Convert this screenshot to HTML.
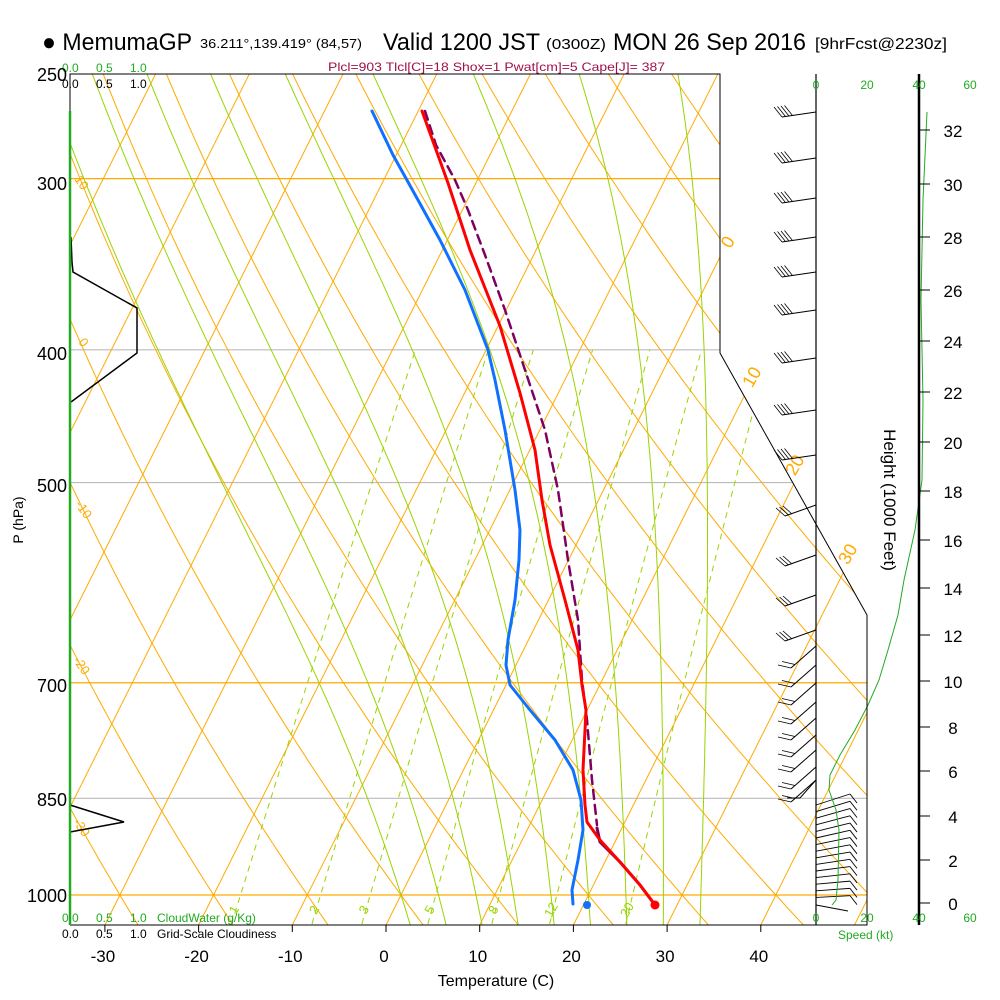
<!DOCTYPE html>
<html><head><meta charset="utf-8"><style>
html,body{margin:0;padding:0;background:#fff;}
svg{display:block;font-family:"Liberation Sans",sans-serif;}
</style></head><body>
<svg id="s" width="1000" height="1000" viewBox="0 0 1000 1000" xmlns="http://www.w3.org/2000/svg">
<defs><clipPath id="cp"><polygon points="70,74 720,74 720,353 867,615 867,925 70,925"/></clipPath></defs>
<g id="bg" clip-path="url(#cp)"></g>
<g id="fg"></g>
<polyline points="70,925 70,74 720,74 720,353 867,615 867,925 70,925" fill="none" stroke="#000" stroke-width="1"/>
<line x1="816" y1="74" x2="816" y2="925" stroke="#000" stroke-width="1.2"/>
<line x1="919" y1="74" x2="919" y2="925" stroke="#000" stroke-width="2.5"/>
<line x1="70" y1="111" x2="70" y2="925" stroke="#22aa22" stroke-width="2.5"/>
<text x="42" y="50" font-size="24" textLength="150" lengthAdjust="spacingAndGlyphs">● MemumaGP</text>
<text x="200" y="48" font-size="13" textLength="162" lengthAdjust="spacingAndGlyphs">36.211°,139.419° (84,57)</text>
<text x="383" y="50" font-size="24" textLength="157" lengthAdjust="spacingAndGlyphs">Valid 1200 JST</text>
<text x="546" y="49" font-size="15" textLength="60" lengthAdjust="spacingAndGlyphs">(0300Z)</text>
<text x="613" y="50" font-size="24" textLength="193" lengthAdjust="spacingAndGlyphs">MON 26 Sep 2016</text>
<text x="815" y="49" font-size="16" textLength="132" lengthAdjust="spacingAndGlyphs">[9hrFcst@2230z]</text>
<text x="328" y="71" font-size="12" fill="#a0104a" textLength="337" lengthAdjust="spacingAndGlyphs">Plcl=903 Tlcl[C]=18 Shox=1 Pwat[cm]=5 Cape[J]= 387</text>
<g font-size="12" fill="#22aa22"><text x="62" y="72">0.0</text><text x="96" y="72">0.5</text><text x="130" y="72">1.0</text></g>
<g font-size="12" fill="#000"><text x="62" y="88">0.0</text><text x="96" y="88">0.5</text><text x="130" y="88">1.0</text></g>
<g font-size="18" text-anchor="end">
<text x="67" y="81">250</text><text x="67" y="190">300</text><text x="67" y="360">400</text><text x="67" y="492">500</text><text x="67" y="692">700</text><text x="67" y="806">850</text><text x="67" y="902">1000</text>
</g>
<text transform="translate(23,520) rotate(-90)" font-size="14" text-anchor="middle">P (hPa)</text>
<text transform="translate(884,500) rotate(90)" font-size="17" text-anchor="middle">Height (1000 Feet)</text>
<g font-size="12" fill="#22aa22" text-anchor="middle"><text x="816" y="89">0</text><text x="867" y="89">20</text><text x="919" y="89">40</text><text x="970" y="89">60</text>
<text x="816" y="922">0</text><text x="867" y="922">20</text><text x="919" y="922">40</text><text x="970" y="922">60</text></g>
<text x="838" y="939" font-size="12" fill="#22aa22">Speed (kt)</text>
<g font-size="12" fill="#22aa22"><text x="62" y="922">0.0</text><text x="96" y="922">0.5</text><text x="130" y="922">1.0</text><text x="157" y="922">CloudWater (g/Kg)</text></g>
<g font-size="12" fill="#000"><text x="62" y="938">0.0</text><text x="96" y="938">0.5</text><text x="130" y="938">1.0</text><text x="157" y="938">Grid-Scale Cloudiness</text></g>
<g font-size="17" text-anchor="middle" id="tl"></g>
<text x="496" y="986" font-size="16" text-anchor="middle">Temperature (C)</text>
<g id="ht" font-size="17" text-anchor="middle"></g>
</svg>
<script>
var NS="http://www.w3.org/2000/svg";
function el(p,t,a){var e=document.createElementNS(NS,t);for(var k in a)e.setAttribute(k,a[k]);document.getElementById(p).appendChild(e);return e;}
function Y(p){return 895-595*Math.log(1000/p);}
function X(T,y){return 386+9.37*T+0.5*(925-y);}
var OR="#ffaa00",GR="#99d400";
[[300,OR],[400,"#bbb"],[500,"#bbb"],[700,OR],[850,"#bbb"],[1000,OR]].forEach(function(a){var y=Y(a[0]);el("bg","line",{x1:70,x2:870,y1:y,y2:y,stroke:a[1],"stroke-width":1.2});});
for(var T=-160;T<=50;T+=10){el("bg","line",{x1:X(T,925),y1:925,x2:X(T,74),y2:74,stroke:OR,"stroke-width":1});}
for(var th=-40;th<=200;th+=10){var pts=[];for(var p=1060;p>=240;p-=10){var Tk=(th+273.15)*Math.pow(p/1000,0.286)-273.15;var y=Y(p);pts.push(X(Tk,y).toFixed(1)+","+y.toFixed(1));}el("bg","polyline",{points:pts.join(" "),fill:"none",stroke:OR,"stroke-width":1});}
function es(T){return 6.112*Math.exp(17.67*T/(T+243.5));}
for(var t0=0;t0<=32;t0+=4){
 var pts=[],T=t0;
 for(var p=1000;p<=1060;p+=5){}
 var T2=t0,ptsb=[];
 for(var p=1000;p<=1060;p+=5){var y=Y(p);ptsb.unshift(X(T2,y).toFixed(1)+","+y.toFixed(1));var Tk=T2+273.15,rs=0.622*es(T2)/(p-es(T2));var L=2.5e6,Rd=287,cp=1004;T2+=(Rd*Tk+L*rs)/(cp+L*L*rs*0.622/(Rd*Tk*Tk))/p*5;}
 ptsb.pop();
 for(var p=1000;p>=250;p-=5){var y=Y(p);pts.push(X(T,y).toFixed(1)+","+y.toFixed(1));
  var Tk=T+273.15,rs=0.622*es(T)/(p-es(T));var L=2.5e6,Rd=287,cp=1004;
  var dTdp=(Rd*Tk+L*rs)/(cp+L*L*rs*0.622/(Rd*Tk*Tk))/p;T-=dTdp*5;}
 el("bg","polyline",{points:ptsb.concat(pts).join(" "),fill:"none",stroke:GR,"stroke-width":1});}
[1,2,3,5,8,12,20].forEach(function(w){var pts=[];for(var p=1050;p>=400;p-=10){var e=w*p/(622+w);var l=Math.log(e/6.112);var Td=243.5*l/(17.67-l);var y=Y(p);pts.push(X(Td,y).toFixed(1)+","+y.toFixed(1));}
 el("bg","polyline",{points:pts.join(" "),fill:"none",stroke:GR,"stroke-width":1,"stroke-dasharray":"6,5"});
 var e=w*1020/(622+w),l=Math.log(e/6.112),Td=243.5*l/(17.67-l);var lx=X(Td,912);el("bg","text",{x:lx,y:914,"font-size":13,fill:GR,"text-anchor":"middle",transform:"rotate(-60 "+lx+" 910)"}).textContent=w;});
[[0,733,245],[10,757,380],[20,800,468],[30,853,557]].forEach(function(a){el("fg","text",{x:a[1],y:a[2],fill:OR,"font-size":18,"text-anchor":"middle",transform:"rotate(-60 "+a[1]+" "+a[2]+")"}).textContent=a[0];});
[["10",78,185],["0",80,345],["-10",80,512],["-20",78,668],["-30",78,830]].forEach(function(a){el("fg","text",{x:a[1],y:a[2],fill:OR,"font-size":13,"text-anchor":"middle",transform:"rotate(55 "+a[1]+" "+a[2]+")"}).textContent=a[0];});
el("fg","polyline",{points:"71,237 72,262 73,272 137,308 137,353 71,402",fill:"none",stroke:"#000","stroke-width":1.5});
el("fg","polyline",{points:"70,805 124,822 70,832",fill:"none",stroke:"#000","stroke-width":1.5});
function pl(pts,c,w,d){var a={points:pts,fill:"none",stroke:c,"stroke-width":w,"stroke-linejoin":"round","stroke-linecap":"round"};if(d)a["stroke-dasharray"]=d;el("fg","polyline",a);}
pl("425,111 436,145 455,180 468,210 485,255 505,310 525,370 545,430 558,490 568,560 578,620 582,680 587,720 592,780 597,825","#800060",2.5,"9,6");
pl("597,828 600,842 620,862 640,885 655,905","#800060",3);
pl("372,111 393,155 418,200 440,240 465,290 488,350 495,380 505,430 515,490 520,530 519,560 515,600 508,640 506,665 510,685 530,710 555,740 573,770 581,800 583,830 578,860 572,890 573,904","#1070ff",3);
pl("422,111 448,183 470,250 500,326 520,393 535,450 542,500 550,545 565,600 578,650 582,685 586,710 583,770 585,805 587,822 600,840 620,862 640,885 655,905","#ff0000",3);
el("fg","circle",{cx:587,cy:905,r:4,fill:"#1070ff"});
el("fg","circle",{cx:655,cy:905,r:4.5,fill:"#ff0000"});
for(var i=-3;i<=4;i++){var x=386+93.7*i;el("fg","line",{x1:x,x2:x,y1:925,y2:932,stroke:"#000"});el("tl","text",{x:x-2,y:962}).textContent=(i*10);}
[112,158,198,237,272,310,358,410,455].forEach(function(y){el("fg","line",{x1:816,y1:y,x2:782,y2:y+5,stroke:"#000"});for(var k=0;k<4;k++){var bx=782+k*3.5;el("fg","line",{x1:bx,y1:y+5-k*0.5,x2:bx-8,y2:y-5-k*0.5,stroke:"#000","stroke-width":0.8});}});
[505,555,595,630].forEach(function(y){el("fg","line",{x1:816,y1:y,x2:785,y2:y+11,stroke:"#000"});for(var k=0;k<3;k++){var bx=785+k*3.5;el("fg","line",{x1:bx,y1:y+11-k,x2:bx-9,y2:y+3-k,stroke:"#000","stroke-width":0.8});}});
[646,665,683,702,718,735,750,767,780].forEach(function(y,i){el("fg","line",{x1:816,y1:y,x2:791,y2:y+22,stroke:"#000"});for(var k=0;k<2;k++){var bx=791+k*4;el("fg","line",{x1:bx,y1:y+22-k*3.5,x2:bx-13,y2:y+19-k*3.5,stroke:"#000","stroke-width":0.8});}});
el("fg","polyline",{points:"816,780 800,798 787,798",fill:"none",stroke:"#000"});
for(var y=805;y<=900;y+=6.6){var dy=Math.max(2,22-(y-805)*0.2);el("fg","line",{x1:816,y1:y,x2:850,y2:y-dy*0.5,stroke:"#000","stroke-width":0.9});el("fg","line",{x1:850,y1:y-dy*0.5,x2:857,y2:y-dy*0.5+9,stroke:"#000","stroke-width":0.9});}
el("fg","line",{x1:816,y1:905,x2:848,y2:911,stroke:"#000"});
el("fg","polyline",{points:"927,112 923,200 921,300 923,400 922,480 915,530 904,580 898,615 888,650 879,680 868,705 855,730 840,755 830,775 829,790 836,810 839,830 838,880 836,900 832,905",fill:"none",stroke:"#22aa22","stroke-width":1});
var hy=[903,860,816,771,727,681,635,588,540,491,442,392,341,290,237,184,130];
hy.forEach(function(y,i){el("fg","line",{x1:919,x2:930,y1:y,y2:y,stroke:"#000"});el("ht","text",{x:953,y:y+7}).textContent=i*2;});
</script>
</body></html>
